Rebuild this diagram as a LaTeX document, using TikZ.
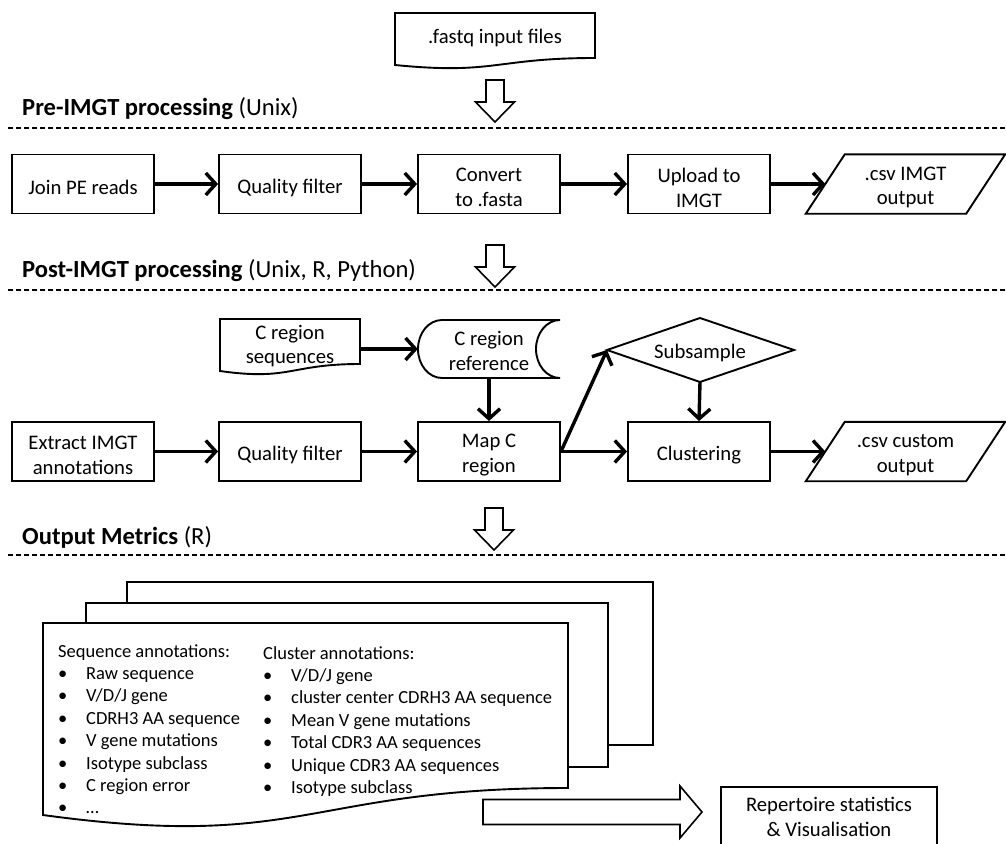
\documentclass[tikz,border=0pt]{standalone}
\usepackage{fontspec}
\setmainfont{Carlito}
\usetikzlibrary{arrows.meta,calc}
\newcommand\mainfs{\fontsize{20.7}{24.8}\selectfont}
\newcommand\labfs{\fontsize{24.6}{29}\selectfont}
\newcommand\listfs{\fontsize{18.5}{22.4}\selectfont}
\newcommand\bul{\makebox[28pt][l]{•}}
\tikzset{
  outl/.style={draw, line width=1.9pt, fill=white, line join=miter},
  box/.style={draw, line width=1.9pt, fill=white, minimum width=142pt, minimum height=59pt, inner sep=0pt},
  frame/.style={inner sep=0pt, minimum width=160pt, minimum height=59pt},
  txt/.style={inner sep=0pt, align=center, font=\mainfs},
  lab/.style={anchor=west, inner sep=0pt, font=\labfs},
  listtxt/.style={anchor=north west, inner sep=0pt, align=left, font=\listfs},
  conn/.style={line width=3.4pt, -{Straight Barb[length=10pt,width=22pt]}},
  dashsep/.style={line width=1.4pt, dash pattern=on 5pt off 3pt},
  barrow/.style={draw, line width=1.6pt, fill=white, line join=miter},
}
\newcommand\vblock[2]{\draw[barrow] ({#1-9},#2) -- ({#1+9},#2) -- ({#1+9},{#2+22}) -- ({#1+19.5},{#2+22}) -- (#1,{#2+42}) -- ({#1-19.5},{#2+22}) -- ({#1-9},{#2+22}) -- cycle;}
\newcommand\boxnode[3]{\node[box] (#1) at (#2) {};\node[txt] (#1-t) at ([yshift=-3.5pt]#1.center) {#3};}
\newcommand\paranode[3]{\node[frame] (#1) at (#2) {};
  \draw[outl, fill=none] ($(#1.south west)+(-19.5,0)$) -- ($(#1.north west)+(19.5,0)$) -- ($(#1.north east)+(19.5,0)$) -- ($(#1.south east)+(-19.5,0)$) -- cycle;
  \node[txt] (#1-t) at ([yshift=-3.5pt]#1.center) {#3};}
\begin{document}
\begin{tikzpicture}[x=1pt,y=-1pt]
\useasboundingbox[fill=white] (0,0) rectangle (1006,843);

% section labels and separators
\node[lab] (l1) at (22,109) {\textbf{Pre-IMGT processing} (Unix)};
\node[lab] (l2) at (22,271) {\textbf{Post-IMGT processing} (Unix, R, Python)};
\node[lab] (l3) at (22,537) {\textbf{Output Metrics} (R)};
\draw[dashsep] (8,128) -- (1006,128);
\draw[dashsep] (8,290) -- (1006,290);
\draw[dashsep] (8,555) -- (1006,555);

% input document
\draw[outl] (395,13) -- (595,13) -- (595,58) .. controls (495,58) and (495,75) .. (395,65) -- cycle;
\node[txt] (fq) at (495,38) {.fastq input files};

% block arrows
\vblock{495}{80}
\vblock{495}{245}
\vblock{494}{508}

% row 1
\boxnode{join}{83,184}{Join PE reads}
\boxnode{qf1}{290,184}{Quality filter}
\boxnode{conv}{489,184}{Convert\\to .fasta}
\boxnode{upl}{699,184}{Upload to\\IMGT}
\paranode{out1}{905.5,184}{.csv IMGT\\output}

\draw[conn] (join) -- (qf1);
\draw[conn] (qf1) -- (conv);
\draw[conn] (conv) -- (upl);
\draw[conn] (upl.east) -- (out1.west);

% C region sequences (document)
\draw[outl] (220,319) -- (360,319) -- (360,364) .. controls (290,364) and (290,381) .. (220,371) -- cycle;
\node[txt, minimum width=140pt] (cseq) at (290,346) {C region\\sequences};

% C region reference (stored data)
\draw[outl] (442,320) -- (560,320) arc[start angle=270, end angle=90, x radius=24, y radius=29] -- (442,378) arc[start angle=90, end angle=270, x radius=24, y radius=29] -- cycle;
\node[txt, minimum width=142pt, minimum height=58pt] (cref) at (489,351) {C region\\reference};

% Subsample (decision)
\draw[outl] (607,350) -- (700,318) -- (794,350) -- (700,382) -- cycle;
\node[txt] (sub) at (700,352.5) {Subsample};
\coordinate (subW) at (607,350);
\coordinate (subS) at (700,382);

% row 2
\boxnode{ext}{83,451.5}{Extract IMGT\\annotations}
\boxnode{qf2}{290,451.5}{Quality filter}
\boxnode{mapc}{489,451.5}{Map C\\region}
\boxnode{clus}{699,451.5}{Clustering}
\paranode{out2}{905.5,451.5}{.csv custom\\output}

\draw[conn] (cseq.east |- 0,349) -- (cref.west |- 0,349);
\draw[conn] (cref.south |- 0,378) -- (mapc.north);
\draw[conn] (ext) -- (qf2);
\draw[conn] (qf2) -- (mapc);
\draw[conn] (mapc.east) -- (clus.west);
\draw[conn] (mapc.east) -- (subW);
\draw[conn] (subS) -- (clus.north);
\draw[conn] (clus.east) -- (out2.west);

% multi-document
\draw[outl] (127,582) rectangle (653,745);
\draw[outl] (86,603) rectangle (608,767);
\draw[outl] (43,623) -- (568,623) -- (568,788) .. controls (305.5,788) and (305.5,851) .. (43,815) -- cycle;
\node[listtxt] (seqann) at (58,644) {Sequence annotations:\\
\bul Raw sequence\\
\bul V/D/J gene\\
\bul CDRH3 AA sequence\\
\bul V gene mutations\\
\bul Isotype subclass\\
\bul C region error\\
\bul …};
\node[listtxt] (cluann) at (263,646) {Cluster annotations:\\
\bul V/D/J gene\\
\bul cluster center CDRH3 AA sequence\\
\bul Mean V gene mutations\\
\bul Total CDR3 AA sequences\\
\bul Unique CDR3 AA sequences\\
\bul Isotype subclass};

% horizontal block arrow and final box
\draw[barrow] (483,799.5) -- (680,799.5) -- (680,786) -- (702,812) -- (680,838) -- (680,824.5) -- (483,824.5) -- cycle;
\node[box, minimum width=216pt, minimum height=64pt] (rep) at (829,819) {};
\node[txt] (rep-t) at (829,817) {Repertoire statistics\\\& Visualisation};
\end{tikzpicture}
\end{document}
